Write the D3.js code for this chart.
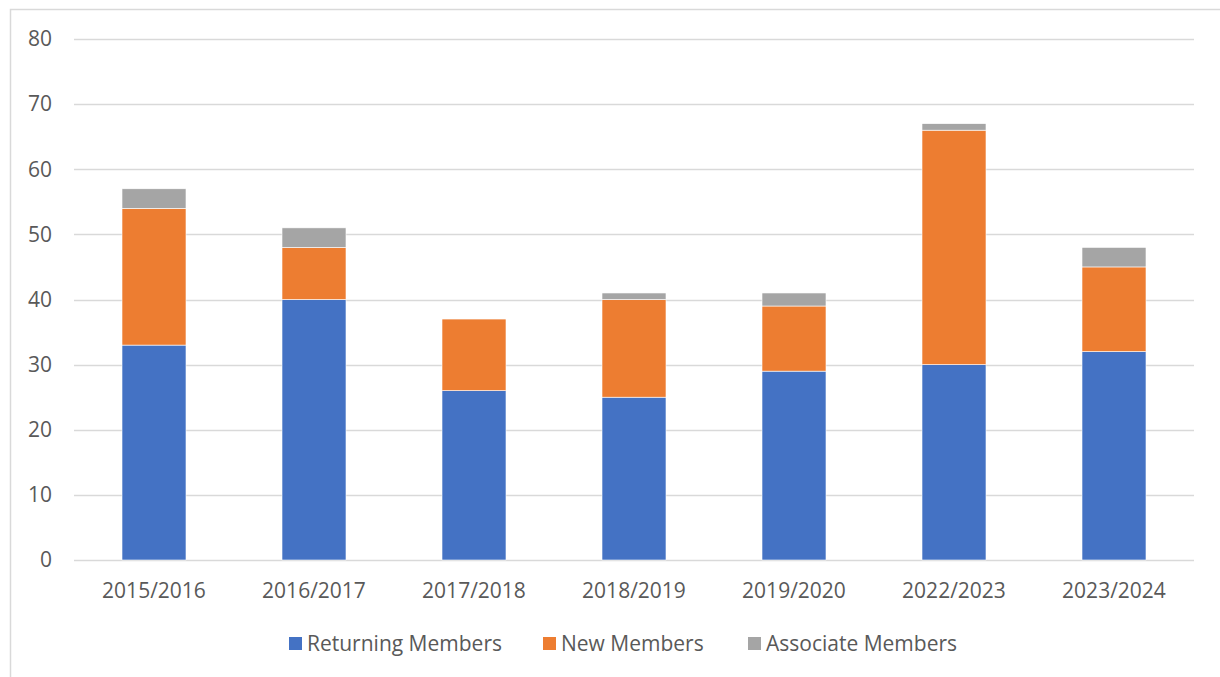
<!DOCTYPE html>
<html>
<head>
<meta charset="utf-8">
<script src="https://cdn.jsdelivr.net/npm/d3@7"></script>
<style>
  html, body { margin: 0; padding: 0; background: #fff; }
  svg { display: block; font-family: "Open Sans", "Noto Sans", sans-serif; }
</style>
</head>
<body>
<div id="chart"></div>
<script>
const seasons = ["2015/2016", "2016/2017", "2017/2018", "2018/2019", "2019/2020", "2022/2023", "2023/2024"];
const returningMembers = [33, 40, 26, 25, 29, 30, 32];
const newMembers = [21, 8, 11, 15, 10, 36, 13];
const associateMembers = [3, 3, 0, 1, 2, 1, 3];
const seriesNames = ["Returning Members", "New Members", "Associate Members"];
const seriesColors = ["#4472C4", "#ED7D31", "#A5A5A5"];
const yTicks = [0, 10, 20, 30, 40, 50, 60, 70, 80];

const width = 1220, height = 677;
const margin = {left: 74, right: 26, top: 39, bottom: 117};

const svg = d3.select("#chart").append("svg")
  .attr("width", width)
  .attr("height", height);

// chart area border (runs off the right/bottom edge)
svg.append("rect")
  .attr("x", 10.5).attr("y", 9.5)
  .attr("width", width + 20).attr("height", height + 20)
  .attr("fill", "none")
  .attr("stroke", "#d9d9d9")
  .attr("stroke-width", 1.5);

const x = d3.scaleBand()
  .domain(seasons)
  .range([margin.left, width - margin.right])
  .paddingInner(0.6)
  .paddingOuter(0.3);

const y = d3.scaleLinear()
  .domain([0, 80])
  .range([height - margin.bottom, margin.top]);

const rows = seasons.map((s, i) => ({
  season: s,
  "Returning Members": returningMembers[i],
  "New Members": newMembers[i],
  "Associate Members": associateMembers[i]
}));

const stacked = d3.stack().keys(seriesNames)(rows);

// gridlines
svg.append("g")
  .selectAll("line")
  .data(yTicks)
  .join("line")
  .attr("x1", margin.left)
  .attr("x2", width - margin.right)
  .attr("y1", d => Math.round(y(d)) + 0.5)
  .attr("y2", d => Math.round(y(d)) + 0.5)
  .attr("stroke", "#d9d9d9")
  .attr("stroke-width", 1.3);

// y labels
svg.append("g")
  .selectAll("text")
  .data(yTicks)
  .join("text")
  .attr("x", 52)
  .attr("y", d => y(d))
  .attr("dy", "0.35em")
  .attr("text-anchor", "end")
  .attr("fill", "#595959")
  .attr("font-size", 21)
  .text(d => d);

// bars
svg.append("g")
  .selectAll("g")
  .data(stacked)
  .join("g")
  .attr("fill", (d, i) => seriesColors[i])
  .selectAll("rect")
  .data(d => d.filter(p => p[1] > p[0]))
  .join("rect")
  .attr("x", d => x(d.data.season))
  .attr("width", x.bandwidth())
  .attr("y", d => y(d[1]))
  .attr("height", d => y(d[0]) - y(d[1]))
  .attr("stroke", "#fff")
  .attr("stroke-width", 0.6);

// x labels
svg.append("g")
  .selectAll("text")
  .data(seasons)
  .join("text")
  .attr("x", d => x(d) + x.bandwidth() / 2)
  .attr("y", 591)
  .attr("dy", "0.35em")
  .attr("text-anchor", "middle")
  .attr("fill", "#595959")
  .attr("font-size", 21)
  .text(d => d);

// legend
const legendX = [289, 543, 748];
const legend = svg.append("g")
  .selectAll("g")
  .data(seriesNames)
  .join("g")
  .attr("transform", (d, i) => `translate(${legendX[i]},644)`);

legend.append("rect")
  .attr("x", 0).attr("y", -7)
  .attr("width", 13).attr("height", 13)
  .attr("fill", (d, i) => seriesColors[i]);

legend.append("text")
  .attr("x", 18)
  .attr("y", 0)
  .attr("dy", "0.35em")
  .attr("fill", "#595959")
  .attr("font-size", 21)
  .text(d => d);
</script>
</body>
</html>
